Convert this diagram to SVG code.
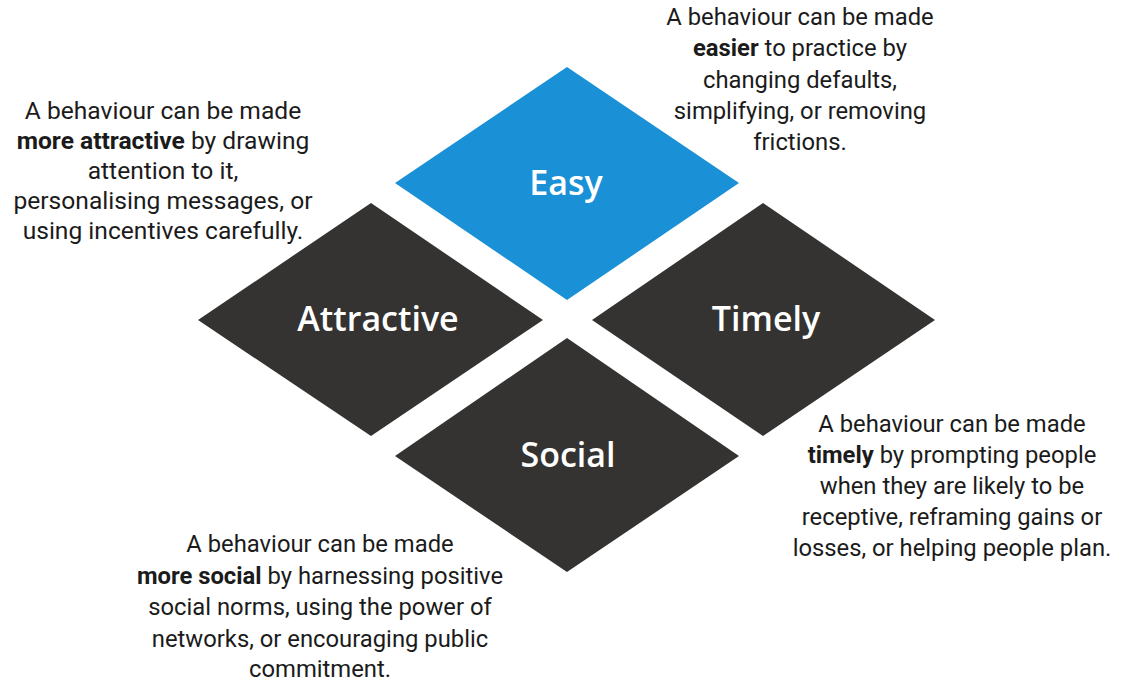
<svg xmlns="http://www.w3.org/2000/svg" width="1130" height="682" viewBox="0 0 1130 682">
  <style>
    .diamond-blue { fill: #1a90d6; }
    .diamond-dark { fill: #343331; }
    .label { font-family: "Open Sans", "Noto Sans", sans-serif; font-size: 34px; font-weight: 600; fill: #ffffff; text-anchor: middle; }
    .desc { font-family: Roboto, "Liberation Sans", sans-serif; font-size: 23.8px; fill: #1b1b1b; text-anchor: middle; }
    .desc-lg { font-size: 24.6px; }
    .desc .b { font-weight: 700; }
  </style>
  <rect width="1130" height="682" fill="#ffffff"/>

  <!-- four diamonds of the framework -->
  <g id="node-easy">
    <polygon class="diamond-blue" points="567,67 739,183 567,300 395,183"/>
    <text class="label" x="566" y="195">Easy</text>
  </g>
  <g id="node-attractive">
    <polygon class="diamond-dark" points="371,203 543,320 371,436 198,320"/>
    <text class="label" x="378" y="331">Attractive</text>
  </g>
  <g id="node-timely">
    <polygon class="diamond-dark" points="763,203 935,320 763,436 592,320"/>
    <text class="label" x="766" y="331">Timely</text>
  </g>
  <g id="node-social">
    <polygon class="diamond-dark" points="567,338 739,456 567,572 395,456"/>
    <text class="label" x="568" y="467">Social</text>
  </g>

  <g id="connectors"/>

  <!-- descriptions -->
  <g id="text-easy">
    <text class="desc" x="800" y="25">A behaviour can be made</text>
    <text class="desc" x="800" y="56"><tspan class="b">easier</tspan> to practice by</text>
    <text class="desc" x="800" y="87.5">changing defaults,</text>
    <text class="desc" x="800" y="119">simplifying, or removing</text>
    <text class="desc" x="800" y="150">frictions.</text>
  </g>
  <g id="text-attractive">
    <text class="desc desc-lg" x="163" y="119">A behaviour can be made</text>
    <text class="desc desc-lg" x="163" y="149"><tspan class="b">more attractive</tspan> by drawing</text>
    <text class="desc desc-lg" x="163" y="179">attention to it,</text>
    <text class="desc desc-lg" x="163" y="209">personalising messages, or</text>
    <text class="desc desc-lg" x="163" y="239">using incentives carefully.</text>
  </g>
  <g id="text-timely">
    <text class="desc" x="952" y="432">A behaviour can be made</text>
    <text class="desc" x="952" y="463"><tspan class="b">timely</tspan> by prompting people</text>
    <text class="desc" x="952" y="494">when they are likely to be</text>
    <text class="desc" x="952" y="525">receptive, reframing gains or</text>
    <text class="desc" x="952" y="556">losses, or helping people plan.</text>
  </g>
  <g id="text-social">
    <text class="desc" x="320" y="552">A behaviour can be made</text>
    <text class="desc" x="320" y="583.5"><tspan class="b">more social</tspan> by harnessing positive</text>
    <text class="desc" x="320" y="615">social norms, using the power of</text>
    <text class="desc" x="320" y="646.5">networks, or encouraging public</text>
    <text class="desc" x="320" y="677">commitment.</text>
  </g>
</svg>
